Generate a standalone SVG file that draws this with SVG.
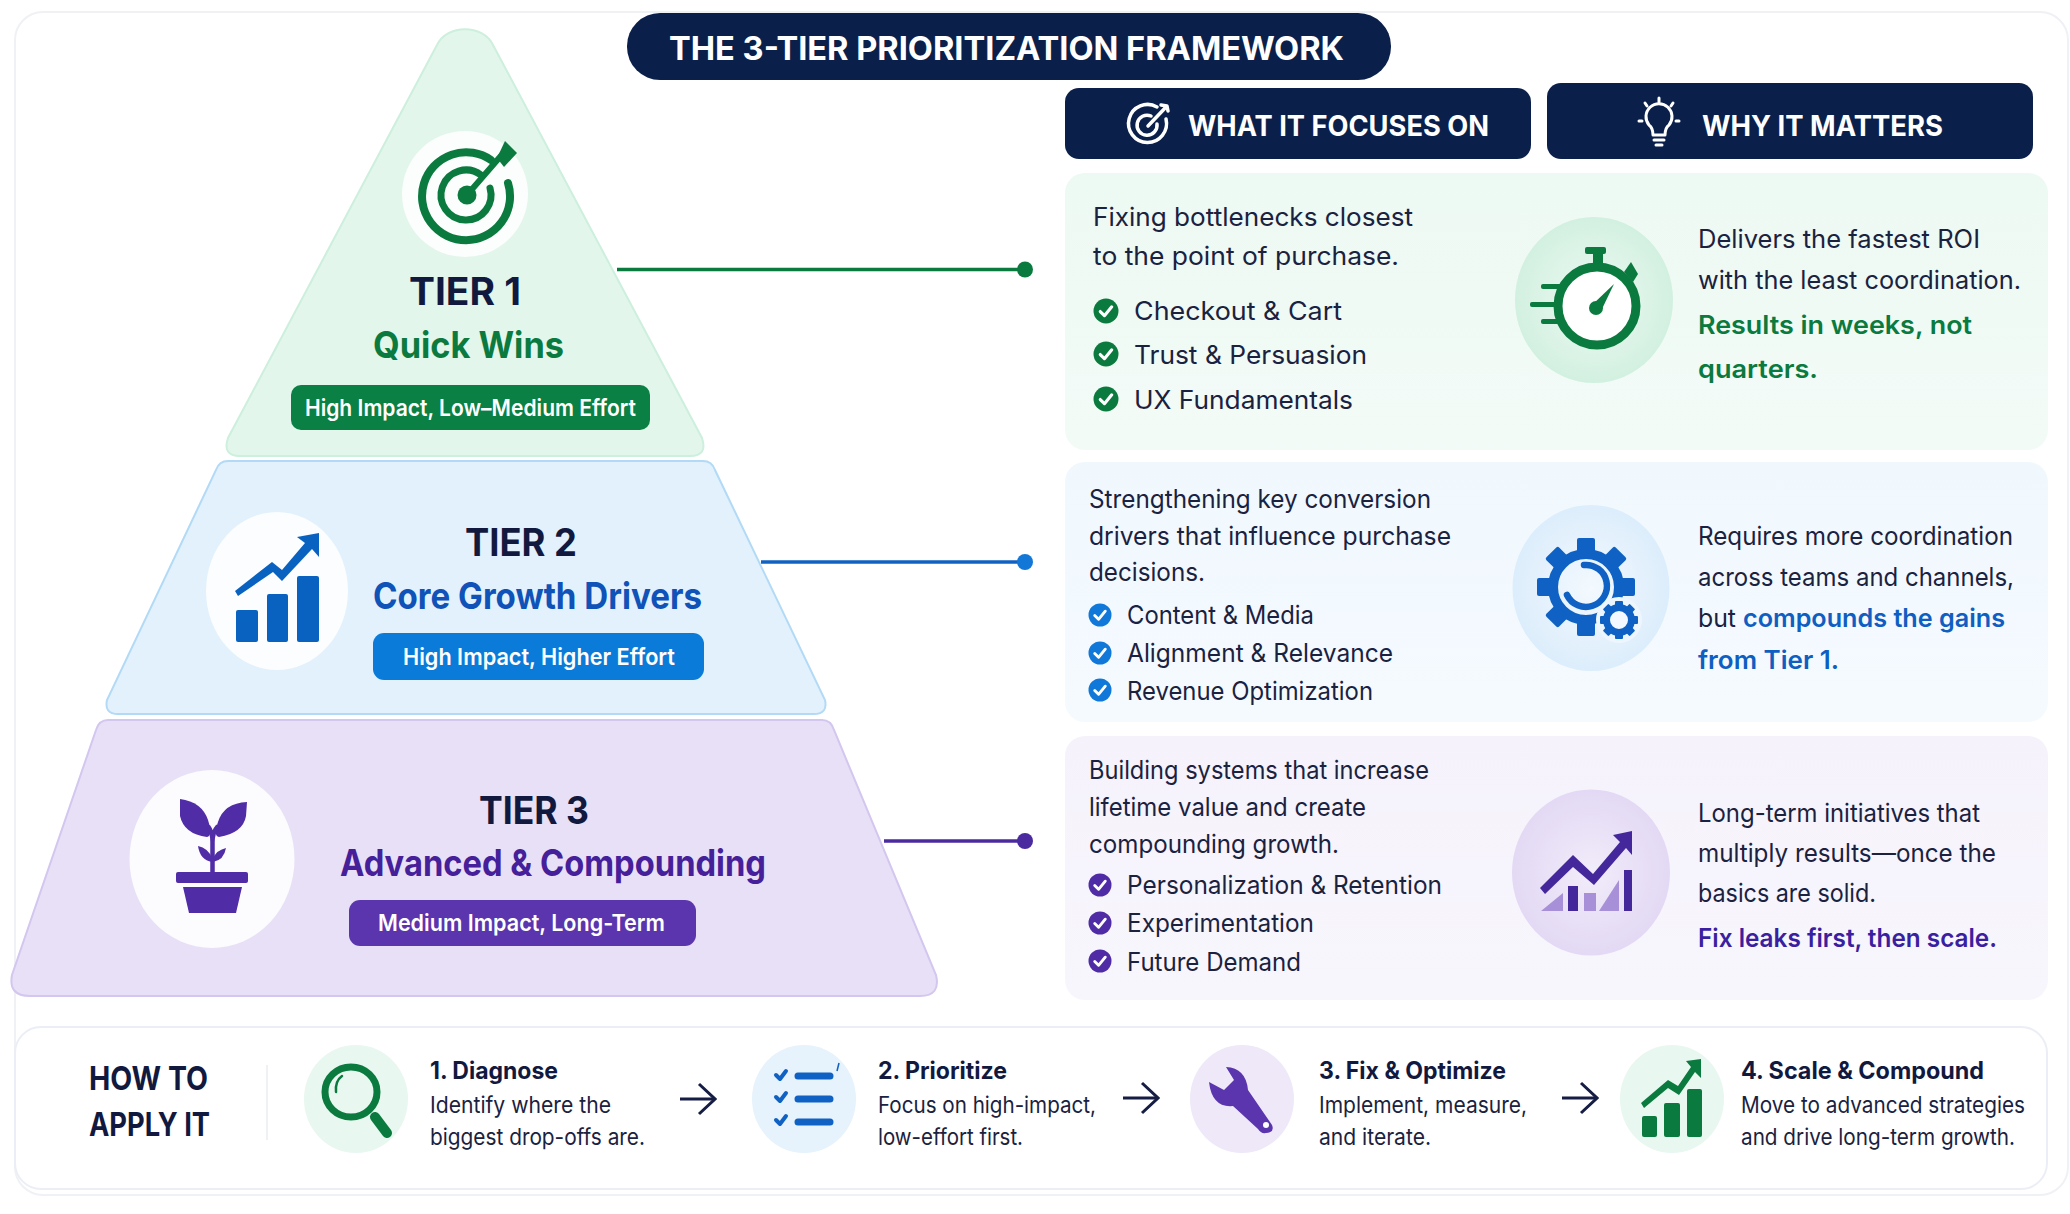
<svg xmlns="http://www.w3.org/2000/svg" width="2070" height="1214" viewBox="0 0 2070 1214">
<style>
text{font-family:Inter,"Liberation Sans",sans-serif;fill:#1a2240;transform:translateY(1px)}
.tier{font-size:38px;font-weight:700;fill:#12193f;text-anchor:middle}
.sub{font-size:37px;font-weight:700}
.badge{font-size:23px;font-weight:600;fill:#fff}
.hd{font-size:29px;font-weight:700;fill:#fff}
.body{font-size:25.5px;font-weight:400}
.em{font-size:25.5px;font-weight:600}
.st{font-size:24px;font-weight:700;fill:#12193f}
.sd{font-size:22.5px;font-weight:400}
.g{fill:#0b7a3e}.b{fill:#0f5fc2}.p{fill:#45209a}
.gs{stroke:#0b7a3e}.bs{stroke:#0f62c4}.ps{stroke:#4b2a9f}
.ln{fill:none;stroke-width:3.5}
.i{fill:none;stroke-linecap:round;stroke-linejoin:round}
.step{fill:none;stroke:#161d44;stroke-width:3}
</style>
<defs>
<symbol id="check" viewBox="0 0 24 24" overflow="visible">
<circle cx="12" cy="12" r="12" fill="currentColor"/>
<path d="M6.500 12.500l4 4 7-8.500" fill="none" stroke="#fff" stroke-width="3" stroke-linecap="round" stroke-linejoin="round"/>
</symbol>
<marker id="open" markerWidth="22" markerHeight="34" refX="20" refY="17" orient="auto" markerUnits="userSpaceOnUse">
<path d="M4 2L20 17L4 32" fill="none" stroke="#161d44" stroke-width="3"/>
</marker>
<radialGradient id="gg"><stop offset="0" stop-color="#eefaf3"/><stop offset="1" stop-color="#d2f0e0"/></radialGradient>
<radialGradient id="bg"><stop offset="0" stop-color="#f3f9fe"/><stop offset="1" stop-color="#dcedfb"/></radialGradient>
<radialGradient id="pg"><stop offset="0" stop-color="#f1ecfa"/><stop offset="1" stop-color="#e3d9f4"/></radialGradient>
<linearGradient id="pn1" x1="0" y1="0" x2="0" y2="1"><stop offset="0" stop-color="#edf9f3"/><stop offset="1" stop-color="#f3fbf7"/></linearGradient>
<linearGradient id="pn2" x1="0" y1="0" x2="0" y2="1"><stop offset="0" stop-color="#f0f8fe"/><stop offset="1" stop-color="#f5fafe"/></linearGradient>
<linearGradient id="pn3" x1="0" y1="0" x2="0" y2="1"><stop offset="0" stop-color="#f5f2fb"/><stop offset="1" stop-color="#f8f6fd"/></linearGradient>
</defs>
<rect width="2070" height="1214" fill="#fff"/>
<rect x="15" y="12" width="2053" height="1183" rx="28" fill="#fff" stroke="#f0f1f5" stroke-width="2"/>

<g id="title">
<rect x="627" y="13" width="764" height="67" rx="33" fill="#0b1f4b"/>
<text x="669" y="59" font-size="32" font-weight="700" style="fill:#fff" textLength="675" lengthAdjust="spacingAndGlyphs">THE 3-TIER PRIORITIZATION FRAMEWORK</text>
</g>

<g id="header-focus">
<rect x="1065" y="88" width="466" height="71" rx="14" fill="#0b1f4b"/>
<g class="i" stroke="#fff" stroke-width="3.500">
<path d="M1157 107A19 19 0 1 0 1166 119"/><path d="M1151 116A10 10 0 1 0 1157 124"/>
<path d="M1148 126L1167 106M1161 105l6 1 1 5"/>
</g>
<text class="hd" x="1188" y="135" textLength="301" lengthAdjust="spacingAndGlyphs">WHAT IT FOCUSES ON</text>
</g>
<g id="header-why">
<rect x="1547" y="83" width="486" height="76" rx="14" fill="#0b1f4b"/>
<g class="i" stroke="#fff" stroke-width="3">
<path d="M1653 135Q1653 128 1649 125A13 13 0 1 1 1669 125Q1665 128 1665 135Z"/>
<path d="M1654 140H1664M1656 145H1662M1659 102V98M1642 121H1639M1676 121H1679M1647 106L1645 103M1671 106L1673 103"/>
</g>
<text class="hd" x="1702" y="135" textLength="241" lengthAdjust="spacingAndGlyphs">WHY IT MATTERS</text>
</g>

<g id="tier-1">
<path d="M240 456Q222 456 228 438L437 45C447 24 483 24 493 45L702 438Q708 456 690 456Z" fill="#e3f6ec" stroke="#cdefdd" stroke-width="2"/>
<circle cx="465" cy="194" r="63" fill="#fbfefc"/>
<g class="i gs" stroke-width="8">
<path d="M491 160A44 44 0 1 0 508 183"/>
<path d="M481 175A25 25 0 1 0 490 188" stroke-width="7"/>
<path d="M467 195L506 150" stroke-width="6"/>
</g>
<circle cx="467" cy="195" r="9.500" fill="#0b7a3e"/>
<path d="M497 158L505 141L517 153L504 167Z" fill="#0b7a3e"/>
<text class="tier" x="465" y="304" textLength="112" lengthAdjust="spacingAndGlyphs">TIER 1</text>
<text class="sub g" x="373" y="357" textLength="191" lengthAdjust="spacingAndGlyphs">Quick Wins</text>
<rect x="291" y="385" width="359" height="45" rx="10" fill="#0a8044"/>
<text class="badge" x="305" y="415" textLength="331" lengthAdjust="spacingAndGlyphs">High Impact, Low–Medium Effort</text>
</g>

<g id="tier-2">
<path d="M228 461H703Q712 461 715 470L825 700Q828 714 814 714H118Q104 714 107 700L216 470Q219 461 228 461Z" fill="#e2f1fc" stroke="#b2daf6" stroke-width="2"/>
<ellipse cx="277" cy="591" rx="71" ry="79" fill="#fbfdff"/>
<g fill="#0a62c0">
<rect x="236" y="610" width="22" height="32" rx="2"/><rect x="267" y="594" width="21" height="48" rx="2"/><rect x="297" y="576" width="22" height="66" rx="2"/>
<path d="M297 537L319 533V557L312 549L282 581L273 572L238 596L235 591L272 562L282 570L305 543Z"/>
</g>
<text class="tier" x="521" y="555" textLength="112" lengthAdjust="spacingAndGlyphs">TIER 2</text>
<text class="sub b" x="373" y="608" style="fill:#0f52b8" textLength="329" lengthAdjust="spacingAndGlyphs">Core Growth Drivers</text>
<rect x="373" y="633" width="331" height="47" rx="11" fill="#0a7bd8"/>
<text class="badge" x="403" y="664" textLength="272" lengthAdjust="spacingAndGlyphs">High Impact, Higher Effort</text>
</g>

<g id="tier-3">
<path d="M108 720H822Q831 720 834 730L936 975Q941 996 920 996H30Q8 996 12 975L96 730Q99 720 108 720Z" fill="#e8e0f6" stroke="#d3c6ef" stroke-width="2"/>
<ellipse cx="212" cy="859" rx="82.500" ry="89" fill="#fcfbfe"/>
<g fill="#502ca6">
<rect x="176" y="872" width="72" height="11" rx="2"/>
<path d="M183 887H242L236 913H189Z"/>
<path d="M180 799Q202 802 208 820Q213 836 207 837Q184 834 180 816Z"/>
<path d="M247 802Q224 803 218 822Q213 836 219 837Q243 833 246 816Z"/>
<path d="M198 846Q208 848 212 858V862Q200 860 198 846ZM226 848Q217 850 213 858V862Q224 860 226 848Z"/>
</g>
<path d="M212.500 872V842Q212.500 832 208 826M212.500 842Q212.500 832 218 826" fill="none" stroke="#502ca6" stroke-width="4.500"/>
<text class="tier" x="534" y="823" textLength="110" lengthAdjust="spacingAndGlyphs">TIER 3</text>
<text class="sub p" x="340" y="875" textLength="426" lengthAdjust="spacingAndGlyphs">Advanced &amp; Compounding</text>
<rect x="349" y="900" width="347" height="46" rx="11" fill="#5a35ad"/>
<text class="badge" x="378" y="930" textLength="287" lengthAdjust="spacingAndGlyphs">Medium Impact, Long-Term</text>
</g>

<g id="panel-1">
<rect x="1065" y="173" width="983" height="277" rx="20" fill="url(#pn1)"/>
<text class="body" x="1093" y="225" textLength="320" lengthAdjust="spacingAndGlyphs">Fixing bottlenecks closest</text>
<text class="body" x="1093" y="264" textLength="306" lengthAdjust="spacingAndGlyphs">to the point of purchase.</text>
<g color="#0b7a3e">
<use href="#check" x="1093.500" y="298.500" width="25" height="25"/>
<use href="#check" x="1093.500" y="341.500" width="25" height="25"/>
<use href="#check" x="1093.500" y="386.500" width="25" height="25"/>
</g>
<text class="body" x="1134" y="319" textLength="208" lengthAdjust="spacingAndGlyphs">Checkout &amp; Cart</text>
<text class="body" x="1134" y="363" textLength="233" lengthAdjust="spacingAndGlyphs">Trust &amp; Persuasion</text>
<text class="body" x="1134" y="408" textLength="219" lengthAdjust="spacingAndGlyphs">UX Fundamentals</text>
<ellipse cx="1594" cy="300" rx="79" ry="83" fill="url(#gg)"/>
<circle cx="1597" cy="306" r="39" fill="#fff" stroke="#0b7a3e" stroke-width="9"/>
<g fill="#0b7a3e">
<rect x="1585" y="247" width="21" height="7" rx="2"/><rect x="1593" y="252" width="10" height="14"/>
<path d="M1624 272L1631 262L1638 274L1633 282Z"/>
<circle cx="1596" cy="308" r="7"/>
<path d="M1592 305L1614 284L1601 311Z"/>
<rect x="1541" y="284" width="22" height="5" rx="2"/><rect x="1530" y="302" width="26" height="5" rx="2"/><rect x="1541" y="319" width="22" height="5" rx="2"/>
</g>
<text class="body" x="1698" y="247" textLength="282" lengthAdjust="spacingAndGlyphs">Delivers the fastest ROI</text>
<text class="body" x="1698" y="288" textLength="323" lengthAdjust="spacingAndGlyphs">with the least coordination.</text>
<text class="em g" x="1698" y="333" textLength="274" lengthAdjust="spacingAndGlyphs">Results in weeks, not</text>
<text class="em g" x="1698" y="377" textLength="120" lengthAdjust="spacingAndGlyphs">quarters.</text>
</g>

<g id="panel-2">
<rect x="1065" y="462" width="983" height="260" rx="20" fill="url(#pn2)"/>
<text class="body" x="1089" y="507" textLength="342" lengthAdjust="spacingAndGlyphs">Strengthening key conversion</text>
<text class="body" x="1089" y="544" textLength="362" lengthAdjust="spacingAndGlyphs">drivers that influence purchase</text>
<text class="body" x="1089" y="580" textLength="116" lengthAdjust="spacingAndGlyphs">decisions.</text>
<g color="#0f78d8">
<use href="#check" x="1088.500" y="603.500" width="23" height="23"/>
<use href="#check" x="1088.500" y="641.500" width="23" height="23"/>
<use href="#check" x="1088.500" y="678.500" width="23" height="23"/>
</g>
<text class="body" x="1127" y="623" textLength="187" lengthAdjust="spacingAndGlyphs">Content &amp; Media</text>
<text class="body" x="1127" y="661" textLength="266" lengthAdjust="spacingAndGlyphs">Alignment &amp; Relevance</text>
<text class="body" x="1127" y="699" textLength="246" lengthAdjust="spacingAndGlyphs">Revenue Optimization</text>
<ellipse cx="1591" cy="588" rx="78.500" ry="83" fill="url(#bg)"/>
<g fill="#0f62c4">
<circle cx="1586" cy="587" r="33" fill="none" stroke="#0f62c4" stroke-width="10"/>
<rect x="1577" y="538" width="18" height="16" rx="2"/>
<rect x="1577" y="538" width="18" height="16" rx="2" transform="rotate(45 1586 587)"/>
<rect x="1577" y="538" width="18" height="16" rx="2" transform="rotate(90 1586 587)"/>
<rect x="1577" y="538" width="18" height="16" rx="2" transform="rotate(135 1586 587)"/>
<rect x="1577" y="538" width="18" height="16" rx="2" transform="rotate(180 1586 587)"/>
<rect x="1577" y="538" width="18" height="16" rx="2" transform="rotate(225 1586 587)"/>
<rect x="1577" y="538" width="18" height="16" rx="2" transform="rotate(270 1586 587)"/>
<rect x="1577" y="538" width="18" height="16" rx="2" transform="rotate(315 1586 587)"/>
</g>
<path d="M1584 565A21 21 0 1 1 1567 595" fill="none" stroke="#0f62c4" stroke-width="6.500" stroke-linecap="round"/>
<circle cx="1619" cy="620" r="23" fill="#edf6fd"/>
<circle cx="1619" cy="620" r="12.500" fill="#f3f9fe" stroke="#0f62c4" stroke-width="7"/>
<g fill="#0f62c4">
<rect x="1615" y="601" width="8" height="7" rx="1"/>
<rect x="1615" y="601" width="8" height="7" rx="1" transform="rotate(45 1619 620)"/>
<rect x="1615" y="601" width="8" height="7" rx="1" transform="rotate(90 1619 620)"/>
<rect x="1615" y="601" width="8" height="7" rx="1" transform="rotate(135 1619 620)"/>
<rect x="1615" y="601" width="8" height="7" rx="1" transform="rotate(180 1619 620)"/>
<rect x="1615" y="601" width="8" height="7" rx="1" transform="rotate(225 1619 620)"/>
<rect x="1615" y="601" width="8" height="7" rx="1" transform="rotate(270 1619 620)"/>
<rect x="1615" y="601" width="8" height="7" rx="1" transform="rotate(315 1619 620)"/>
</g>
<text class="body" x="1698" y="544" textLength="315" lengthAdjust="spacingAndGlyphs">Requires more coordination</text>
<text class="body" x="1698" y="585" textLength="316" lengthAdjust="spacingAndGlyphs">across teams and channels,</text>
<text class="body" x="1698" y="626" textLength="38" lengthAdjust="spacingAndGlyphs">but</text>
<text class="em b" x="1743" y="626" textLength="262" lengthAdjust="spacingAndGlyphs">compounds the gains</text>
<text class="em b" x="1698" y="668" textLength="141" lengthAdjust="spacingAndGlyphs">from Tier 1.</text>
</g>

<g id="panel-3">
<rect x="1065" y="736" width="983" height="264" rx="20" fill="url(#pn3)"/>
<text class="body" x="1089" y="778" textLength="340" lengthAdjust="spacingAndGlyphs">Building systems that increase</text>
<text class="body" x="1089" y="815" textLength="277" lengthAdjust="spacingAndGlyphs">lifetime value and create</text>
<text class="body" x="1089" y="852" textLength="250" lengthAdjust="spacingAndGlyphs">compounding growth.</text>
<g color="#4f2ca6">
<use href="#check" x="1088.500" y="873.500" width="23" height="23"/>
<use href="#check" x="1088.500" y="911.500" width="23" height="23"/>
<use href="#check" x="1088.500" y="949.500" width="23" height="23"/>
</g>
<text class="body" x="1127" y="893" textLength="315" lengthAdjust="spacingAndGlyphs">Personalization &amp; Retention</text>
<text class="body" x="1127" y="931" textLength="187" lengthAdjust="spacingAndGlyphs">Experimentation</text>
<text class="body" x="1127" y="970" textLength="174" lengthAdjust="spacingAndGlyphs">Future Demand</text>
<ellipse cx="1591" cy="872.500" rx="79" ry="83" fill="url(#pg)"/>
<g fill="#a890d8">
<path d="M1541 911L1563 893V911Z"/><rect x="1584" y="893" width="12" height="18"/><path d="M1599 911L1619 880V911Z"/>
</g>
<g fill="#45279c">
<rect x="1568" y="886" width="10" height="25"/><rect x="1624" y="870" width="8" height="41"/>
<path d="M1613 835L1632 831V855L1626 848L1594 885L1573 867L1545 894L1540 888L1573 855L1593 874L1620 842Z"/>
</g>
<text class="body" x="1698" y="821" textLength="282" lengthAdjust="spacingAndGlyphs">Long-term initiatives that</text>
<text class="body" x="1698" y="861" textLength="298" lengthAdjust="spacingAndGlyphs">multiply results—once the</text>
<text class="body" x="1698" y="901" textLength="178" lengthAdjust="spacingAndGlyphs">basics are solid.</text>
<text class="em p" x="1698" y="946" style="fill:#3a1fa0" textLength="299" lengthAdjust="spacingAndGlyphs">Fix leaks first, then scale.</text>
</g>

<g id="how-to">
<rect x="15" y="1027" width="2032" height="162" rx="26" fill="#fff" stroke="#eceef6" stroke-width="2"/>
<text x="89" y="1089" font-size="33" font-weight="700" style="fill:#12193f" textLength="119" lengthAdjust="spacingAndGlyphs">HOW TO</text>
<text x="89" y="1135" font-size="33" font-weight="700" style="fill:#12193f" textLength="121" lengthAdjust="spacingAndGlyphs">APPLY IT</text>
<path d="M267 1065V1140" stroke="#f0f1f5" stroke-width="2"/>
</g>

<g id="step-1">
<ellipse cx="356" cy="1099" rx="52" ry="54" fill="#e8f7ef"/>
<ellipse cx="351" cy="1092" rx="26" ry="25" fill="none" stroke="#0b7a3e" stroke-width="7"/>
<path d="M375 1117L387 1133" stroke="#0b7a3e" stroke-width="10" stroke-linecap="round"/>
<path d="M336 1092Q335 1081 342 1076" fill="none" stroke="#0b7a3e" stroke-width="2.500" stroke-linecap="round"/>
<text class="st" x="430" y="1078" textLength="128" lengthAdjust="spacingAndGlyphs">1. Diagnose</text>
<text class="sd" x="430" y="1112" textLength="181" lengthAdjust="spacingAndGlyphs">Identify where the</text>
<text class="sd" x="430" y="1144" textLength="215" lengthAdjust="spacingAndGlyphs">biggest drop-offs are.</text>
</g>

<g id="step-2">
<ellipse cx="804" cy="1099" rx="52" ry="54" fill="#e6f2fc"/>
<g class="i bs" stroke-width="4">
<path d="M776 1075l4 4 6-8M776 1097l4 4 6-8M776 1120l4 4 6-8"/>
</g>
<g class="i bs" stroke-width="7">
<path d="M798 1076H830M798 1099H830M798 1122H830"/>
</g>
<path d="M837 1071L839 1063" stroke="#0f62c4" stroke-width="1.500" fill="none"/>
<text class="st" x="878" y="1078" textLength="129" lengthAdjust="spacingAndGlyphs">2. Prioritize</text>
<text class="sd" x="878" y="1112" textLength="218" lengthAdjust="spacingAndGlyphs">Focus on high-impact,</text>
<text class="sd" x="878" y="1144" textLength="145" lengthAdjust="spacingAndGlyphs">low-effort first.</text>
</g>

<g id="step-3">
<ellipse cx="1242" cy="1099" rx="52" ry="54" fill="#eee8f8"/>
<path d="M1226 1067Q1246 1068 1248 1090L1272 1125Q1275 1132 1266 1133Q1261 1134 1258 1129L1233 1106Q1212 1108 1209 1082L1224 1090L1234 1080Z" fill="#5a35ad"/>
<circle cx="1266" cy="1125" r="3" fill="#fff"/>
<text class="st" x="1319" y="1078" textLength="187" lengthAdjust="spacingAndGlyphs">3. Fix &amp; Optimize</text>
<text class="sd" x="1319" y="1112" textLength="208" lengthAdjust="spacingAndGlyphs">Implement, measure,</text>
<text class="sd" x="1319" y="1144" textLength="112" lengthAdjust="spacingAndGlyphs">and iterate.</text>
</g>

<g id="step-4">
<ellipse cx="1672" cy="1099" rx="52" ry="54" fill="#e8f7ef"/>
<g fill="#0b7a3e">
<rect x="1642" y="1116" width="15" height="21" rx="2"/><rect x="1664" y="1103" width="16" height="34" rx="2"/><rect x="1687" y="1089" width="15" height="48" rx="2"/>
<path d="M1686 1061L1701 1059V1078L1695 1072L1679 1095L1668 1088L1644 1108L1641 1103L1668 1080L1678 1086L1691 1067Z"/>
</g>
<text class="st" x="1741" y="1078" textLength="243" lengthAdjust="spacingAndGlyphs">4. Scale &amp; Compound</text>
<text class="sd" x="1741" y="1112" textLength="284" lengthAdjust="spacingAndGlyphs">Move to advanced strategies</text>
<text class="sd" x="1741" y="1144" textLength="274" lengthAdjust="spacingAndGlyphs">and drive long-term growth.</text>
</g>

<g id="connectors">
<path class="ln gs" d="M617 269.500H1025"/><circle cx="1025" cy="269.500" r="8" fill="#0b7a3e"/>
<path class="ln bs" d="M761 562H1025"/><circle cx="1025" cy="562" r="8" fill="#1277d6"/>
<path class="ln ps" d="M884 841H1025"/><circle cx="1025" cy="841" r="8" fill="#4b2a9f"/>
<path class="step" d="M680 1099H715" marker-end="url(#open)"/>
<path class="step" d="M1123 1098H1158" marker-end="url(#open)"/>
<path class="step" d="M1562 1098H1597" marker-end="url(#open)"/>
</g>
</svg>
